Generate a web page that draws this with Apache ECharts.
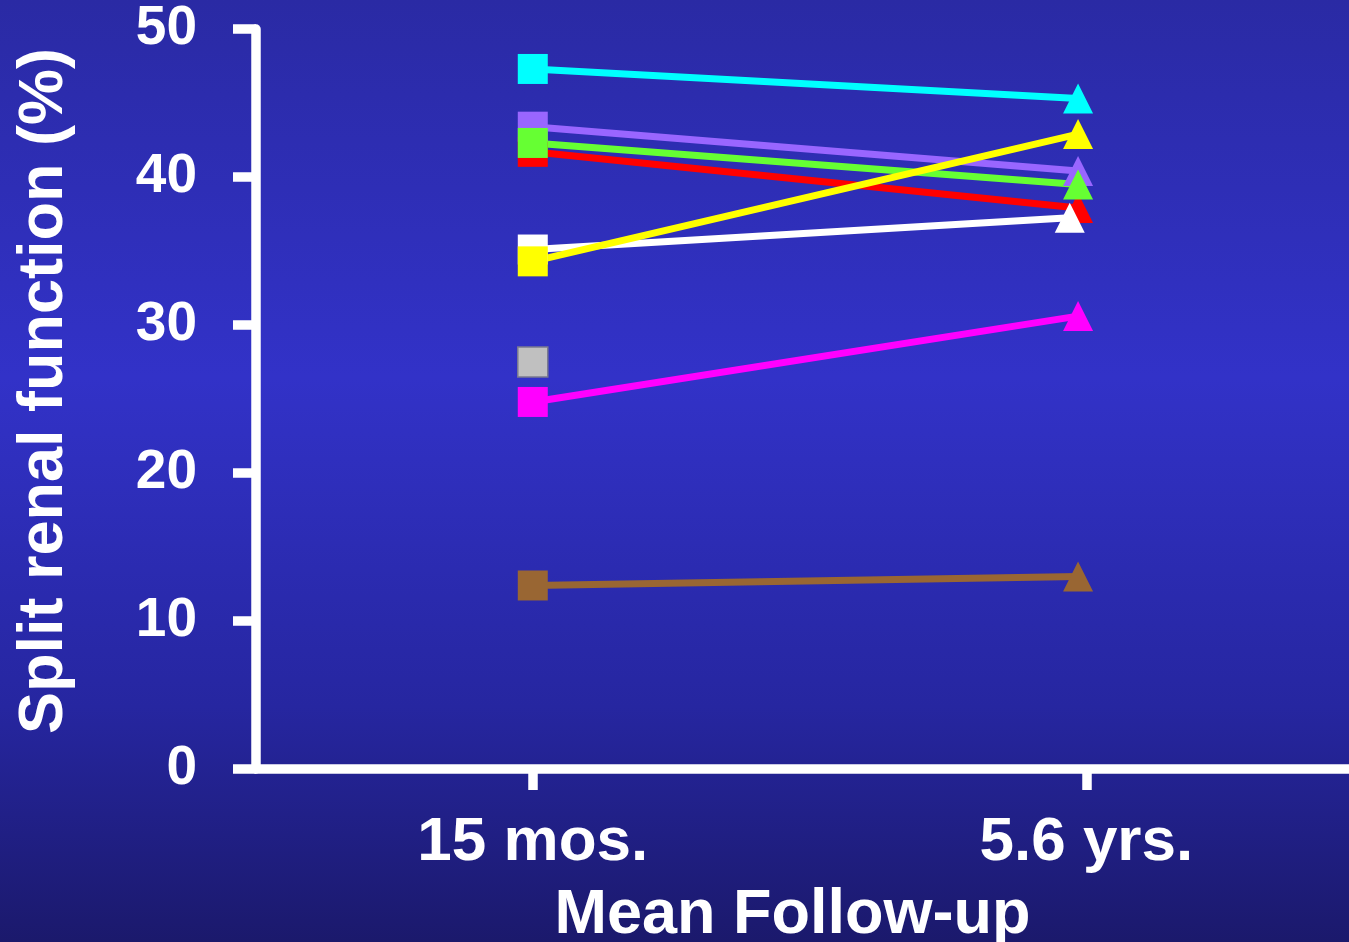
<!DOCTYPE html>
<html>
<head>
<meta charset="utf-8">
<script src="https://cdn.jsdelivr.net/npm/echarts@6/dist/echarts.min.js"></script>
<style>
html,body{margin:0;padding:0;width:1349px;height:942px;overflow:hidden;}
#chart{width:1349px;height:942px;}
</style>
</head>
<body>
<div id="chart"></div>
<script>
// ---- data ----
const categories = ['15 mos.', '5.6 yrs.'];
const categoryTicks = [1, 3];
const pointX = [1, 2.97];          // marker positions
const whitePointX = [1, 2.94];     // white triangle sits a little left
const yTicks = [0, 10, 20, 30, 40, 50];

const cyanVals    = [47.3, 45.3];
const purpleVals  = [43.4, 40.4];
const greenVals   = [42.3, 39.5];
const redVals     = [41.7, 37.9];
const whiteVals   = [35.1, 37.25];
const yellowVals  = [34.3, 42.9];
const grayVals    = [27.5];
const magentaVals = [24.8, 30.6];
const brownVals   = [12.4, 13.0];

const FONT = "'Liberation Sans', Arial, Helvetica, sans-serif";

function pairs(xs, ys) { return ys.map((v, i) => [xs[i], v]); }

function mkSeries(name, color, xs, ys, extra) {
  return Object.assign({
    name: name,
    type: 'line',
    data: pairs(xs, ys),
    symbol: function (val, params) { return params.dataIndex === 0 ? 'rect' : 'triangle'; },
    symbolSize: 30,
    showAllSymbol: true,
    lineStyle: { color: color, width: 7 },
    itemStyle: { color: color, borderWidth: 0 },
    emphasis: { disabled: true },
    animation: false
  }, extra || {});
}

const chart = echarts.init(document.getElementById('chart'), null, { renderer: 'canvas' });
chart.setOption({
  backgroundColor: {
    type: 'linear', x: 0, y: 0, x2: 0, y2: 1,
    colorStops: [
      { offset: 0, color: '#2a2aa4' },
      { offset: 0.4, color: '#3232c8' },
      { offset: 0.75, color: '#2626a0' },
      { offset: 1, color: '#1b196c' }
    ]
  },
  animation: false,
  grid: { left: 256, right: 0, top: 29, bottom: 173, containLabel: false, outerBoundsMode: 'none' },
  xAxis: {
    type: 'value',
    min: 0,
    max: 3.949,
    name: 'Mean Follow-up',
    nameLocation: 'middle',
    nameGap: 115,
    nameTextStyle: { color: '#ffffff', fontSize: 63, fontWeight: 'bold', fontFamily: FONT, padding: [0, 20, 0, 0] },
    axisLine: { show: true, lineStyle: { color: '#ffffff', width: 9.5 } },
    axisTick: { show: true, customValues: categoryTicks, length: 21, lineStyle: { color: '#ffffff', width: 9.5 } },
    axisLabel: {
      customValues: categoryTicks,
      formatter: function (v) { const i = categoryTicks.indexOf(v); return i >= 0 ? categories[i] : ''; },
      color: '#ffffff', fontSize: 62, fontWeight: 'bold', fontFamily: FONT, margin: 43
    },
    splitLine: { show: false }
  },
  yAxis: {
    type: 'value',
    min: 0,
    max: 50,
    interval: 10,
    name: 'Split renal function (%)',
    nameLocation: 'middle',
    nameGap: 180,
    nameTextStyle: { color: '#ffffff', fontSize: 63, fontWeight: 'bold', fontFamily: FONT, padding: [0, 0, 0, 16] },
    axisLine: { show: true, lineStyle: { color: '#ffffff', width: 9.5 } },
    axisTick: { show: true, length: 23, lineStyle: { color: '#ffffff', width: 9.5 } },
    axisLabel: { color: '#ffffff', fontSize: 55, fontWeight: 'bold', fontFamily: FONT, margin: 59 },
    splitLine: { show: false }
  },
  series: [
    mkSeries('red', '#ff0000', pointX, redVals),
    mkSeries('purple', '#9966ff', pointX, purpleVals),
    mkSeries('green', '#66ff33', pointX, greenVals),
    mkSeries('white', '#ffffff', whitePointX, whiteVals),
    mkSeries('yellow', '#ffff00', pointX, yellowVals),
    mkSeries('cyan', '#00ffff', pointX, cyanVals),
    mkSeries('magenta', '#ff00ff', pointX, magentaVals),
    mkSeries('brown', '#996633', pointX, brownVals),
    mkSeries('gray', '#c0c0c0', pointX, grayVals, { itemStyle: { color: '#c0c0c0', borderColor: '#7a7a90', borderWidth: 1.5 } })
  ]
});
</script>
</body>
</html>
